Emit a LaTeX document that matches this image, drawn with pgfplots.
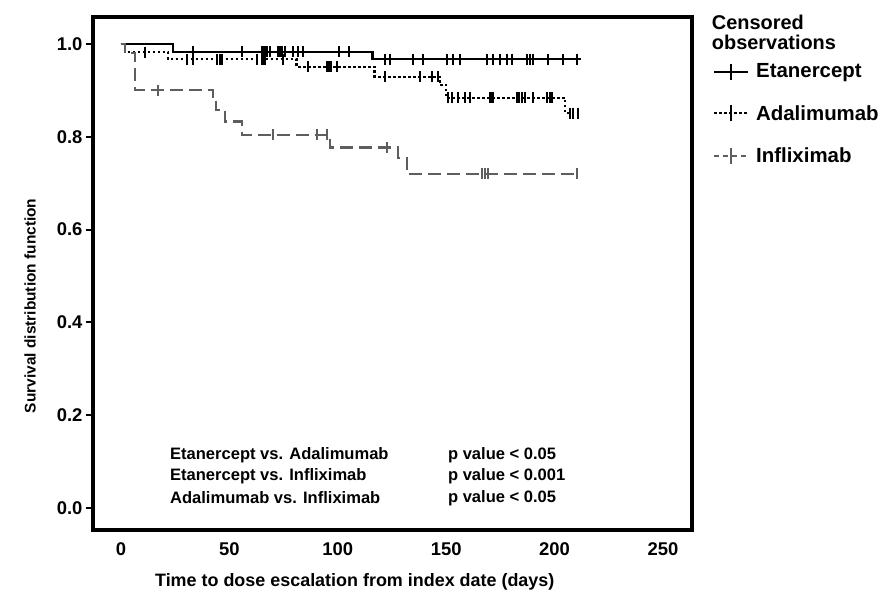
\documentclass[border=0pt]{standalone}
\usepackage{fontspec}
\setmainfont{Liberation Sans}
\usepackage{pgfplots}
\pgfplotsset{compat=1.18}
\usetikzlibrary{calc}
\definecolor{infgray}{HTML}{5E5E5E}

\begin{document}
\begin{tikzpicture}
\begin{axis}[
  scale only axis, width=599bp, height=513bp,
  xmin=-12.9, xmax=263.4, ymin=-0.047, ymax=1.058,
  xtick={0,50,100,150,200,250},
  ytick={0,0.2,0.4,0.6,0.8,1.0},
  xtick pos=bottom, ytick pos=left,
  tick align=outside, major tick length=7bp,
  xtick style={draw=none},
  ytick style={line width=2bp, black},
  axis line style={line width=3.2bp},
  tick label style={font=\bfseries\fontsize{18.5}{20}\selectfont},
  /pgf/number format/assume math mode=true,
  yticklabel style={/pgf/number format/.cd, fixed, fixed zerofill, precision=1},
  xticklabel style={yshift=-2bp},
  xlabel={Time to dose escalation from index date (days)},
  ylabel={Survival distribution function},
  xlabel style={font=\bfseries\fontsize{18}{20}\selectfont, at={(rel axis cs:0.437,-0.101)}, anchor=center},
  ylabel style={font=\bfseries\fontsize{15.5}{17}\selectfont, at={(rel axis cs:-0.105,0.437)}, anchor=center},
  clip=false,
  legend style={draw=none, fill=none, at={(rel axis cs:1.03,0.913)}, anchor=north west,
    font=\bfseries\fontsize{20.5}{22}\selectfont, row sep=22bp, inner sep=0pt},
  legend cell align=left,
  legend image code/.code={%
    \path[draw=none, fill=none] (0bp,0bp) -- (44bp,0bp);
    \draw[mark repeat=2,mark phase=2,#1] plot coordinates {(4bp,0bp) (21bp,0bp) (38bp,0bp)};},
]
\coordinate (sw) at (rel axis cs:0,0);
\coordinate (ne) at (rel axis cs:1,1);

% legend entries
\addlegendimage{black, solid, line width=2bp, mark=|, mark size=8bp, mark options={solid}}
\addlegendentry{Etanercept}
\addlegendimage{black, line width=2bp, dash pattern=on 2.5bp off 2.5bp, mark=|, mark size=8bp, mark options={solid}}
\addlegendentry{Adalimumab}
\addlegendimage{infgray, line width=2bp, dash pattern=on 5bp off 4bp, mark=|, mark size=8bp, mark options={solid}}
\addlegendentry{Infliximab}

% Etanercept
\addplot[forget plot, const plot, black, line width=2.3bp] coordinates {
  (0,1.0) (24,0.983) (116,0.967) (212,0.967)};
\addplot[forget plot, only marks, black, mark=|, mark size=5.5bp, mark options={line width=2bp}] coordinates {
  (33.1,0.983) (55.7,0.983) (64.9,0.983) (65.6,0.983) (66.4,0.983) (67.2,0.983)
  (68.7,0.983) (72.5,0.983) (73.3,0.983) (74.5,0.983) (75.6,0.983) (79.4,0.983)
  (81.8,0.983) (84.1,0.983) (100.7,0.983) (105.3,0.983)
  (121.8,0.967) (124.1,0.967) (134.8,0.967) (139.4,0.967) (150.2,0.967) (153.2,0.967)
  (156.3,0.967) (168.7,0.967) (171.7,0.967) (174.8,0.967) (177.9,0.967) (180.2,0.967)
  (187.1,0.967) (188.6,0.967) (190.2,0.967) (197.1,0.967) (204.0,0.967) (210.2,0.967)};

% Adalimumab
\addplot[forget plot, const plot, black, line width=2.3bp, dash pattern=on 2.5bp off 2.5bp] coordinates {
  (0,1.0) (2,0.982) (21.7,0.967) (81,0.951) (117,0.929) (147,0.912) (150,0.884)
  (204.8,0.851) (211.7,0.851)};
\addplot[forget plot, only marks, black, mark=|, mark size=5.5bp, mark options={line width=2bp}] coordinates {
  (11.1,0.982)
  (30.3,0.967) (33.3,0.967) (44.1,0.967) (45.7,0.967) (46.4,0.967) (62.6,0.967)
  (64.9,0.967) (65.6,0.967) (66.4,0.967) (74.6,0.967)
  (86.4,0.951) (95.2,0.951) (96.1,0.951) (97.0,0.951) (99.5,0.951)
  (121.8,0.929) (137.9,0.929) (143.3,0.929) (146.4,0.929)
  (151,0.884) (152.5,0.884) (155.6,0.884) (158.7,0.884) (161,0.884) (170.2,0.884)
  (171,0.884) (171.7,0.884) (182.5,0.884) (183.7,0.884) (184.8,0.884) (186.3,0.884)
  (190.2,0.884) (196.3,0.884) (197.8,0.884) (198.6,0.884)
  (207.1,0.851) (208.6,0.851) (210.9,0.851)};

% Infliximab
\addplot[forget plot, const plot, infgray, line width=2.3bp, dash pattern=on 13bp off 6bp] coordinates {
  (0,1.0) (2,0.98) (6.5,0.90) (42.6,0.88) (43.9,0.858) (48,0.833) (55.7,0.804)
  (96.4,0.777) (127.9,0.754) (131.8,0.72) (210.2,0.72)};
\addplot[forget plot, only marks, infgray, mark=|, mark size=5.5bp, mark options={line width=2bp}] coordinates {
  (17.2,0.90) (70.3,0.804) (90.3,0.804) (95.2,0.804) (122.5,0.777)
  (166.4,0.72) (167.9,0.72) (169.4,0.72) (210.2,0.72)};

% p values
\begin{scope}[every node/.style={anchor=west, inner sep=0pt, font=\bfseries\fontsize{16.6}{18}\selectfont}]
\node at (axis cs:22.6,0.114) {Etanercept vs. Adalimumab};
\node at (axis cs:22.6,0.069) {Etanercept vs. Infliximab};
\node at (axis cs:22.6,0.022) {Adalimumab vs. Infliximab};
\node at (axis cs:150.8,0.114) {p value < 0.05};
\node at (axis cs:150.8,0.069) {p value < 0.001};
\node at (axis cs:150.8,0.022) {p value < 0.05};
\end{scope}

\node[anchor=north west, align=left, inner sep=0pt, font=\bfseries\fontsize{20}{21}\selectfont]
  at (rel axis cs:1.033,1.005) {Censored\\observations};
\end{axis}
\pgfresetboundingbox
\path ($(sw)+(-93bp,-67bp)$) rectangle ($(ne)+(195bp,17bp)$);
\end{tikzpicture}
\end{document}
